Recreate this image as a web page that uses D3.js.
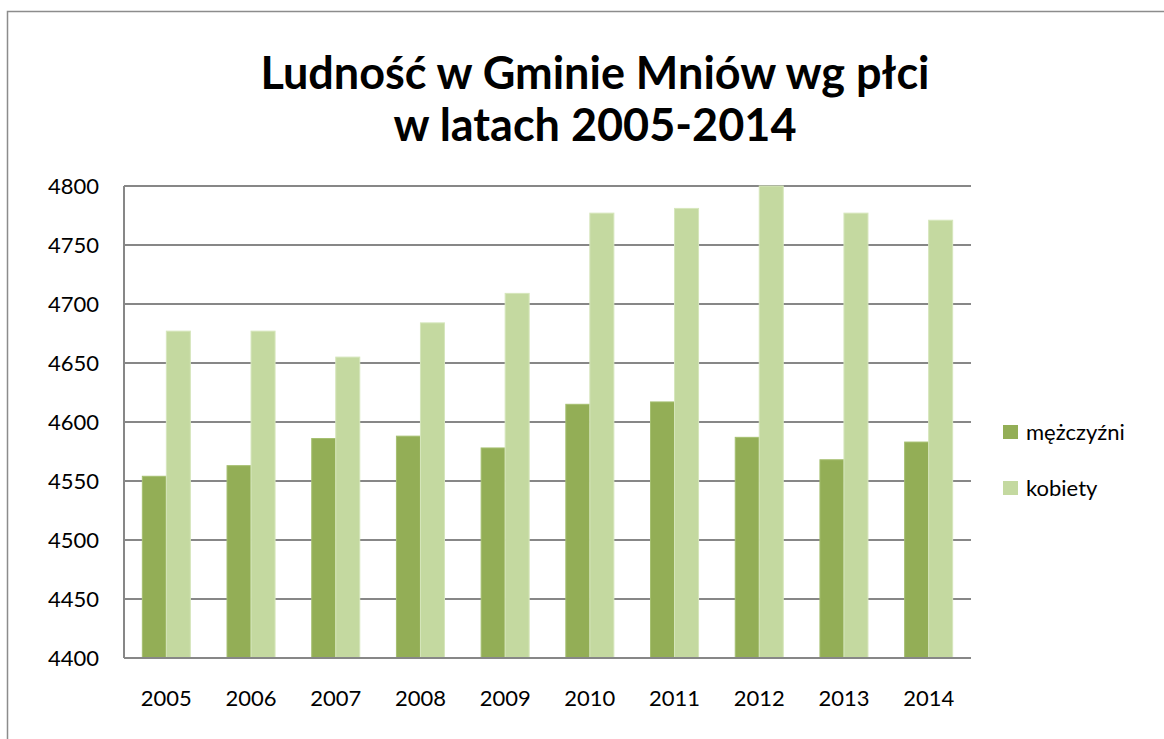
<!DOCTYPE html>
<html>
<head>
<meta charset="utf-8">
<script src="https://cdn.jsdelivr.net/npm/d3@7"></script>
<style>
  body { margin: 0; background: #fff; }
  text { font-family: Lato, "Open Sans", sans-serif; fill: #000; }
</style>
</head>
<body>
<svg class="chart" width="1164" height="739"></svg>
<script>
var years = ["2005", "2006", "2007", "2008", "2009", "2010", "2011", "2012", "2013", "2014"];
var men = [4554, 4563, 4586, 4588, 4578, 4615, 4617, 4587, 4568, 4583];
var women = [4677, 4677, 4655, 4684, 4709, 4777, 4781, 4800, 4777, 4771];
var seriesNames = ["mężczyźni", "kobiety"];
var colors = ["#93ae56", "#c4d9a0"];
var yTicks = [4400, 4450, 4500, 4550, 4600, 4650, 4700, 4750, 4800];
var titleLines = ["Ludność w Gminie Mniów wg płci", "w latach 2005-2014"];

var margin = {top: 186, left: 124};
var width = 971 - 124, height = 658 - 186;

var chart = d3.select(".chart");

// outer chart frame (left + top visible)
chart.append("rect")
    .attr("x", 7.5).attr("y", 11.5)
    .attr("width", 1200).attr("height", 800)
    .style("fill", "none")
    .style("stroke", "#8c8c8c")
    .style("stroke-width", "1.5px");

var main = chart.append("g")
    .attr("transform", "translate(" + margin.left + "," + margin.top + ")");

var x0 = d3.scaleBand().domain(years).range([0, width]).paddingInner(0.433).paddingOuter(0.2165);
var x1 = d3.scaleBand().domain([0, 1]).range([0, x0.bandwidth()]);
var y = d3.scaleLinear().domain([4400, 4800]).range([height, 0]);

// grid lines
main.selectAll(".grid")
    .data(yTicks)
    .enter().append("line")
    .attr("x1", 0).attr("x2", width)
    .attr("y1", function(d) { return y(d); })
    .attr("y2", function(d) { return y(d); })
    .style("stroke", "#878787")
    .style("stroke-width", "2px");

// left border of plot area
main.append("line")
    .attr("x1", 0).attr("x2", 0).attr("y1", 0).attr("y2", height)
    .style("stroke", "#878787").style("stroke-width", "2px");

var data = years.map(function(yr, i) { return [men[i], women[i]]; });

var groups = main.selectAll(".year")
    .data(data)
    .enter().append("g")
    .attr("transform", function(d, i) { return "translate(" + x0(years[i]) + ",0)"; });

groups.selectAll("rect")
    .data(function(d) { return d; })
    .enter().append("rect")
    .attr("x", function(d, i) { return x1(i); })
    .attr("y", function(d) { return y(d); })
    .attr("width", x1.bandwidth())
    .attr("height", function(d) { return height - y(d); })
    .style("fill", function(d, i) { return colors[i]; })
    .style("stroke", function(d, i) { return i == 0 ? "#a5bf70" : "#d6e6bc"; })
    .style("stroke-width", "1px");

// baseline over the bars
main.append("line")
    .attr("x1", 0).attr("x2", width).attr("y1", height).attr("y2", height)
    .style("stroke", "#878787").style("stroke-width", "2px");

// y axis labels
var yAxis = d3.axisLeft(y).tickValues(yTicks).tickSize(0).tickPadding(25).tickFormat(d3.format("d"));
main.append("g").call(yAxis)
    .call(function(g) { g.select(".domain").remove(); })
    .selectAll("text")
    .style("font-size", "22px")
    .style("font-family", "Lato, sans-serif");

// x axis labels
var xAxis = d3.axisBottom(x0).tickSize(0).tickPadding(32);
main.append("g")
    .attr("transform", "translate(0," + height + ")")
    .call(xAxis)
    .call(function(g) { g.select(".domain").remove(); })
    .selectAll("text")
    .style("font-size", "22px")
    .style("font-family", "Lato, sans-serif");

// title
chart.selectAll(".title")
    .data(titleLines)
    .enter().append("text")
    .attr("x", 595)
    .attr("y", function(d, i) { return 89 + i * 52; })
    .attr("text-anchor", "middle")
    .style("font-size", "45px")
    .style("font-weight", "bold")
    .text(function(d) { return d; });

// legend
var legend = chart.selectAll(".legend")
    .data(seriesNames)
    .enter().append("g")
    .attr("transform", function(d, i) { return "translate(1003," + (425 + i * 56) + ")"; });

legend.append("rect")
    .attr("width", 15).attr("height", 14)
    .style("fill", function(d, i) { return colors[i]; });

legend.append("text")
    .attr("x", 23).attr("y", 15)
    .style("font-size", "22px")
    .text(function(d) { return d; });
</script>
</body>
</html>
